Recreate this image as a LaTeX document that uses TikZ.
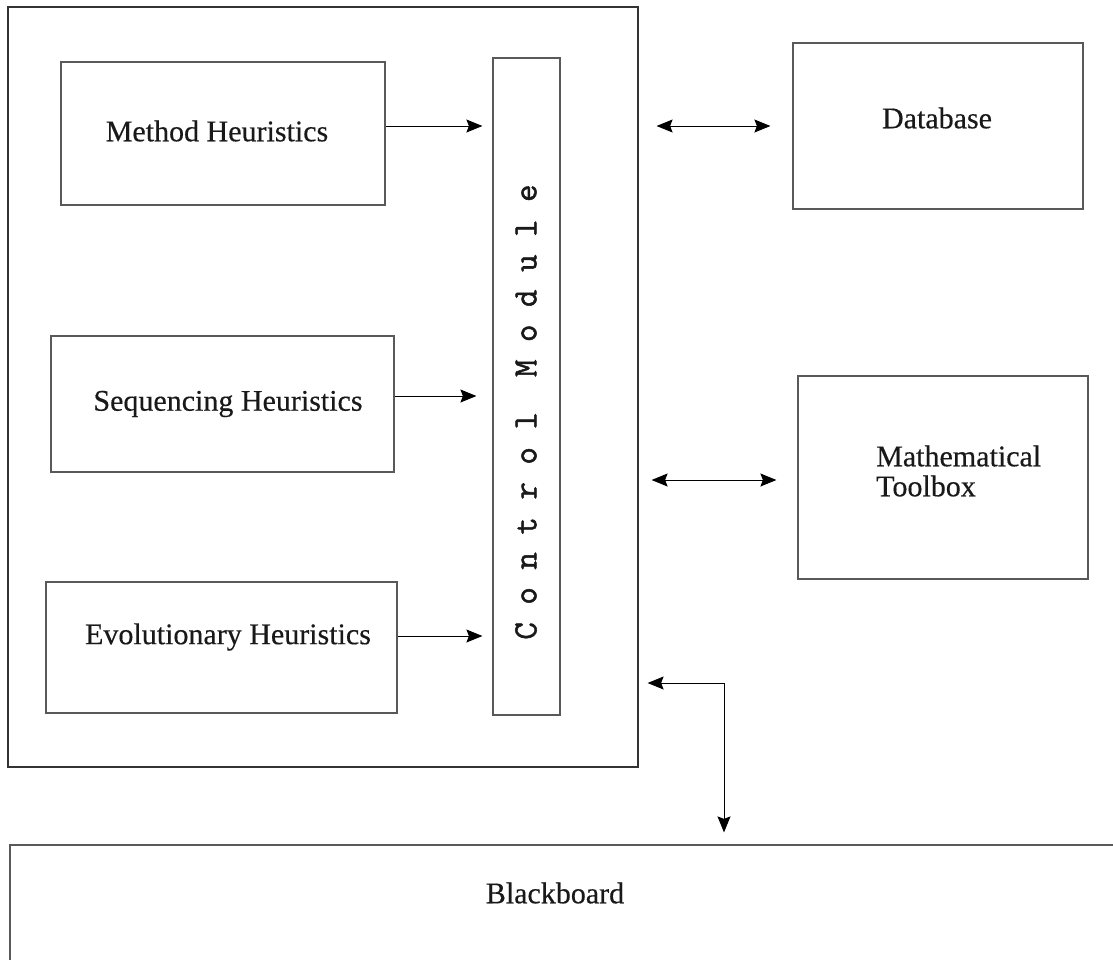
\documentclass[tikz,border=0pt]{standalone}
\usepackage{fontspec}
\setmainfont[FakeBold=0.4]{Liberation Serif}
\newfontfamily\ctrlfont[FakeBold=1.5]{Latin Modern Mono}
\usetikzlibrary{arrows.meta}
\tikzset{
  box/.style={draw=black!65, line width=1.2pt, rectangle, inner sep=0pt},
  outerbox/.style={draw=black!80, line width=1.2pt, rectangle, inner sep=0pt},
  lbl/.style={font=\fontsize{30}{34}\selectfont, text=black!90, inner sep=0pt, align=left},
  arr/.style={-{Stealth[length=16pt,width=13pt,inset=2.5pt]}, line width=1pt, black},
  darr/.style={{Stealth[length=16pt,width=13pt,inset=2.5pt]}-{Stealth[length=16pt,width=13pt,inset=2.5pt]}, line width=1pt, black}
}
\begin{document}
\begin{tikzpicture}[x=1pt,y=-1pt]
\useasboundingbox (0,0) rectangle (1113,959);
\clip (0,0) rectangle (1113,959);
% outer frame
\node[outerbox, minimum width=630pt, minimum height=760pt] (outer) at (323,387) {};
% heuristic boxes
\node[box, minimum width=324pt, minimum height=143pt] (mh) at (223,133.5) {};
\node[lbl] (mht) at (217,131) {Method Heuristics};
\node[box, minimum width=343pt, minimum height=136pt] (sh) at (222.5,404) {};
\node[lbl] (sht) at (228,404) {Sequencing Heuristics};
\node[box, minimum width=351pt, minimum height=131pt] (eh) at (221.5,647.5) {};
\node[lbl] (eht) at (228,637) {Evolutionary Heuristics};
% control module
\node[box, minimum width=67pt, minimum height=657pt] (cm) at (526.5,386.5) {};
\node[rotate=90, inner sep=0pt, font=\ctrlfont\fontsize{34}{38}\selectfont, text=black!90] (cmt) at (526,412) {C o n t r o l \ M o d u l e};
% right boxes
\node[box, minimum width=290pt, minimum height=166pt] (db) at (938,126) {};
\node[lbl] (dbt) at (937,118) {Database};
\node[box, minimum width=290pt, minimum height=203pt] (mt) at (943,477.5) {};
\node[lbl, anchor=west] (mtt) at (876,471) {Mathematical\\[-4pt]Toolbox};
% blackboard
\node[box, minimum width=1130pt, minimum height=160pt] (bb) at (575,925) {};
\node[lbl] (bbt) at (555,893) {Blackboard};
% arrows into control module
\coordinate (a1) at (0,126);
\coordinate (a2) at (0,396);
\coordinate (a3) at (0,636);
\draw[arr, shorten >=10pt] (mh.east |- a1) -- (cm.west |- a1);
\draw[arr, shorten >=16pt] (sh.east |- a2) -- (cm.west |- a2);
\draw[arr, shorten >=10pt] (eh.east |- a3) -- (cm.west |- a3);
% double arrows to right boxes
\draw[darr, shorten <=18pt, shorten >=22pt] (outer.east |- a1) -- (db.west |- a1);
\coordinate (a4) at (0,480);
\draw[darr, shorten <=13pt, shorten >=21pt] (outer.east |- a4) -- (mt.west |- a4);
% L-shaped arrow to blackboard
\coordinate (corner) at (724,683);
\draw[darr, shorten <=9pt, shorten >=12pt] (outer.east |- corner) -- (corner) -- (corner |- bb.north);
\end{tikzpicture}
\end{document}
